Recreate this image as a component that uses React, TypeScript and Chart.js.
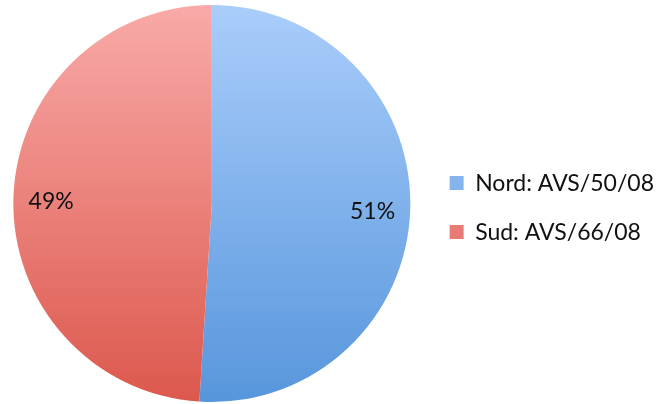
import { useEffect, useRef } from "react";
import { Chart, registerables } from "chart.js";

Chart.register(...registerables);

const categories = ["Nord: AVS/50/08", "Sud: AVS/66/08"];
const values = [51, 49];

const gradientTop = ["#aacdfb", "#f9aaa8"];
const gradientBottom = ["#5796dc", "#dc584d"];
const FONT = "Lato";

const pctPlugin = {
  id: "pctLabels",
  afterDatasetsDraw(chart: any) {
    const meta = chart.getDatasetMeta(0);
    const ctx = chart.ctx;
    const total = values.reduce((a, b) => a + b, 0);
    ctx.save();
    ctx.font = `23px ${FONT}`;
    ctx.fillStyle = "#111111";
    ctx.textAlign = "center";
    ctx.textBaseline = "middle";
    meta.data.forEach((arc: any, i: number) => {
      const { x, y, startAngle, endAngle, outerRadius } = arc.getProps(
        ["x", "y", "startAngle", "endAngle", "outerRadius"],
        true
      );
      const mid = (startAngle + endAngle) / 2;
      const r = outerRadius * 0.81;
      const label = Math.round((values[i] / total) * 100) + "%";
      ctx.fillText(label, x + Math.cos(mid) * r, y + Math.sin(mid) * r + 3);
    });
    ctx.restore();
  },
};

export default function App() {
  const ref = useRef<HTMLCanvasElement | null>(null);
  useEffect(() => {
    document.body.style.margin = "0";
    document.body.style.background = "#ffffff";
    const canvas = ref.current!;
    const chart = new Chart(canvas, {
      type: "pie",
      data: {
        labels: categories,
        datasets: [
          {
            data: values,
            borderWidth: 0,
            backgroundColor: (c: any) => {
              const ch = c.chart;
              const area = ch.chartArea;
              const i = c.dataIndex ?? 0;
              if (!area) return gradientBottom[i];
              const cy = (area.top + area.bottom) / 2;
              const r = Math.min(area.right - area.left, area.bottom - area.top) / 2;
              const g = ch.ctx.createLinearGradient(0, cy - r, 0, cy + r);
              g.addColorStop(0, gradientTop[i]);
              g.addColorStop(1, gradientBottom[i]);
              return g;
            },
          },
        ],
      },
      options: {
        responsive: false,
        animation: false,
        layout: { padding: { left: -11, right: -2, top: 5, bottom: 2 } },
        plugins: {
          tooltip: { enabled: false },
          legend: {
            position: "right",
            align: "center",
            title: { display: true, text: "", font: { size: 1 }, padding: { top: 4, bottom: 3 } },
            labels: {
              boxWidth: 14,
              boxHeight: 14,
              padding: 26,
              color: "#111111",
              font: { family: FONT, size: 23 },
            },
          },
        },
      },
      plugins: [pctPlugin],
    });
    return () => chart.destroy();
  }, []);
  return (
    <div style={{ width: 662, height: 404 }}>
      <canvas ref={ref} width={662} height={404} />
    </div>
  );
}
